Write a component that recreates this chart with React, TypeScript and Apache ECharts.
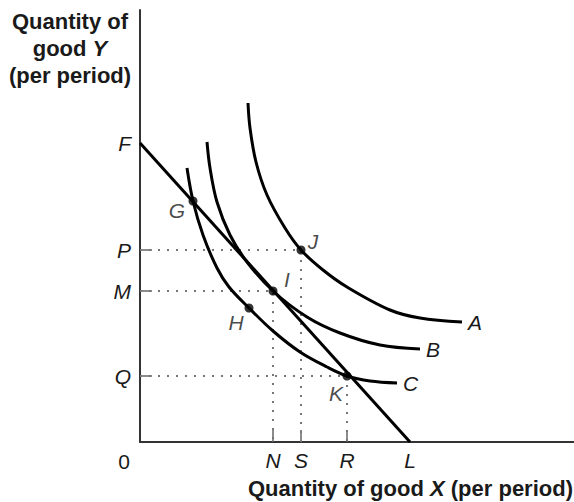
import React, { useEffect, useRef } from 'react';
import * as echarts from 'echarts';

// Units: distance from the origin, one unit = one tenth of the drawn scale
const X_MAX = 43.4;
const Y_MAX = 43.2;

const yMarkNames = ['F', 'P', 'M', 'Q'];
const yMarkValues = [29.9, 19.2, 15.1, 6.6];
const xMarkNames = ['N', 'S', 'R', 'L'];
const xMarkValues = [13.3, 16.1, 20.7, 27.0];

const curveNames = ['A', 'B', 'C'];
const curveA: number[][] = [
  [10.8, 33.9], [11.0, 31.4], [11.6, 28.0], [12.7, 24.7], [14.5, 21.4], [16.1, 19.2],
  [18.3, 17.2], [20.7, 15.5], [25.0, 13.2], [28.0, 12.4], [32.2, 12.0],
];
const curveB: number[][] = [
  [6.7, 30.0], [7.0, 27.4], [7.7, 24.0], [9.0, 20.7], [10.7, 18.0], [13.3, 15.1],
  [16.7, 12.5], [20.0, 10.9], [24.0, 9.7], [28.0, 9.3],
];
const curveC: number[][] = [
  [4.7, 27.4], [5.3, 24.1], [6.3, 20.7], [7.7, 17.4], [8.9, 15.5], [10.9, 13.4],
  [13.3, 11.1], [16.0, 9.0], [18.7, 7.5], [20.7, 6.6], [23.0, 6.1], [25.7, 5.9],
];

const pointNames = ['G', 'J', 'I', 'H', 'K'];
const pointX = [5.3, 16.1, 13.3, 10.9, 20.7];
const pointY = [24.1, 19.2, 15.1, 13.4, 6.6];

const FONT = '"Liberation Sans", Arial, Helvetica, sans-serif';
const INK = '#1a1a1a';
const LETTER_SIZE = 21;

// label placement around each point (px)
const pointLabelOffsets: Record<string, number[]> = {
  G: [-16, 9],
  J: [12, -9],
  I: [14, -12],
  H: [-13, 14],
  K: [-11, 17],
};

function lookup(names: string[], values: number[], v: number): string {
  for (let i = 0; i < values.length; i++) {
    if (Math.abs(values[i] - v) < 1e-6) return names[i];
  }
  return '';
}

export default function App() {
  const ref = useRef<HTMLDivElement>(null);

  useEffect(() => {
    if (!ref.current) return;
    const chart = echarts.init(ref.current, undefined, { renderer: 'svg' });

    const [F, P, M, Q] = yMarkValues;
    const [N, S, R, L] = xMarkValues;

    const guides = [
      [[0, P], [S, P], [S, 0]],
      [[0, M], [N, M], [N, 0]],
      [[0, Q], [R, Q], [R, 0]],
    ];

    const curves = [curveA, curveB, curveC];

    const letterStyle = {
      fontStyle: 'italic',
      fontSize: LETTER_SIZE,
      fontFamily: FONT,
      color: INK,
    };

    const option: any = {
      animation: false,
      grid: { left: 140, right: 0, top: 10, bottom: 60 },
      xAxis: {
        type: 'value',
        min: 0,
        max: X_MAX,
        splitLine: { show: false },
        axisLine: { show: true, onZero: false, lineStyle: { color: '#333', width: 2 } },
        axisTick: {
          show: true,
          inside: true,
          length: 12,
          customValues: [N, S, R],
          lineStyle: { color: '#666', width: 1.5 },
        },
        axisLabel: {
          show: true,
          customValues: xMarkValues,
          formatter: (v: number) => lookup(xMarkNames, xMarkValues, v),
          ...letterStyle,
          margin: 8,
        },
      },
      yAxis: {
        type: 'value',
        min: 0,
        max: Y_MAX,
        splitLine: { show: false },
        axisLine: { show: true, onZero: false, lineStyle: { color: '#333', width: 2 } },
        axisTick: {
          show: true,
          inside: true,
          length: 12,
          customValues: [P, M, Q],
          lineStyle: { color: '#666', width: 1.5 },
        },
        axisLabel: {
          show: true,
          customValues: yMarkValues,
          formatter: (v: number) => lookup(yMarkNames, yMarkValues, v),
          ...letterStyle,
          margin: 9,
        },
      },
      graphic: [
        {
          type: 'text',
          x: 124,
          y: 461,
          style: {
            text: '0',
            font: `${LETTER_SIZE}px ${FONT}`,
            fill: INK,
            align: 'center',
            verticalAlign: 'middle',
          },
        },
        {
          type: 'text',
          x: 70,
          y: 8,
          style: {
            text: 'Quantity of\ngood {i|Y}\n(per period)',
            font: `bold 22px ${FONT}`,
            fill: INK,
            align: 'center',
            verticalAlign: 'top',
            lineHeight: 27,
            rich: {
              i: { fontStyle: 'italic', fontWeight: 'bold', fontSize: 22, fontFamily: FONT, fill: INK, lineHeight: 27 },
            },
          },
        },
        {
          type: 'text',
          x: 573,
          y: 488,
          style: {
            text: 'Quantity of good {i|X} (per period)',
            font: `bold 22px ${FONT}`,
            fill: INK,
            align: 'right',
            verticalAlign: 'middle',
            rich: {
              i: { fontStyle: 'italic', fontWeight: 'bold', fontSize: 22, fontFamily: FONT, fill: INK },
            },
          },
        },
      ],
      series: [
        ...guides.map((g, i) => ({
          type: 'line',
          name: 'guide' + i,
          data: g,
          symbol: 'none',
          silent: true,
          z: 1,
          lineStyle: { color: '#777', width: 2, type: [2, 7] },
        })),
        {
          type: 'line',
          name: 'budget',
          data: [[0, F], [L, 0]],
          symbol: 'none',
          z: 3,
          lineStyle: { color: '#000', width: 3 },
        },
        ...curves.map((c, i) => ({
          type: 'line',
          name: curveNames[i],
          data: c,
          symbol: 'none',
          smooth: 0.35,
          z: 3,
          lineStyle: { color: '#000', width: 3 },
          endLabel: {
            show: true,
            formatter: curveNames[i],
            ...letterStyle,
            distance: 6,
          },
        })),
        {
          type: 'scatter',
          name: 'points',
          z: 5,
          symbolSize: 9,
          itemStyle: { color: '#000' },
          data: pointNames.map((n, i) => ({
            name: n,
            value: [pointX[i], pointY[i]],
            label: {
              show: true,
              formatter: n,
              position: 'inside',
              offset: pointLabelOffsets[n],
              ...letterStyle,
              align: 'center',
              verticalAlign: 'middle',
            },
          })),
        },
      ],
    };

    chart.setOption(option);
    return () => chart.dispose();
  }, []);

  return (
    <div
      ref={ref}
      style={{ position: 'fixed', left: 0, top: 0, width: 574, height: 502, background: '#fff' }}
    />
  );
}
